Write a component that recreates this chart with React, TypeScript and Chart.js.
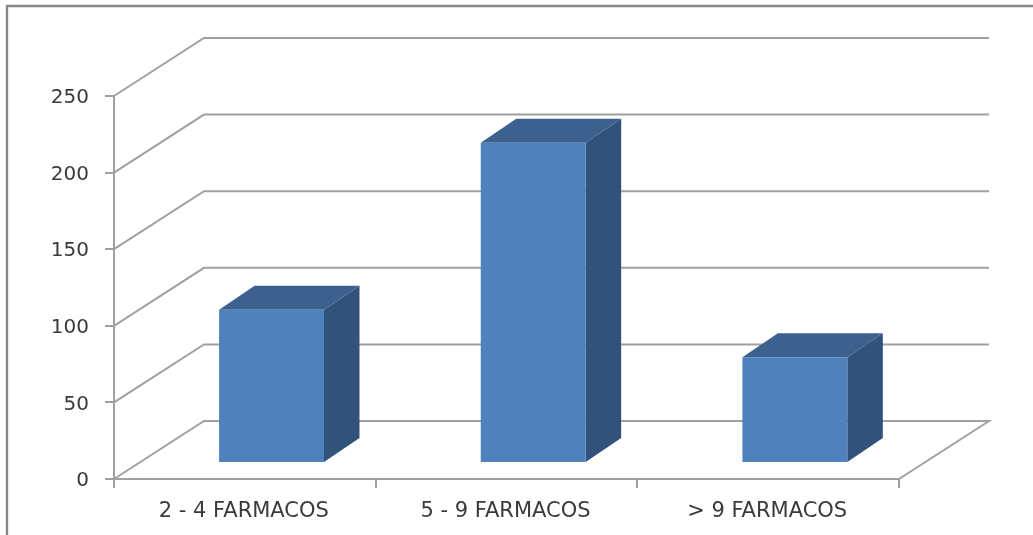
import React, { useEffect, useRef } from "react";
import { Chart, registerables } from "chart.js";

Chart.register(...registerables);

const categories = ["2 - 4 FARMACOS", "5 - 9 FARMACOS", "> 9 FARMACOS"];
const values = [100, 209, 69];
const yMin = 0;
const yMax = 250;
const yStep = 50;

const GRID = "#a0a0a0";
const TEXT = "#3a3a3a";
const FRONT = "#4f81bd";
const SIDE = "#31527a";
const TOP = "#3c618f";

const WALL_DX = 90;
const WALL_DY = 58;
const BAR_SHIFT_X = 26.7;
const BAR_SHIFT_Y = 16;
const BAR_DX = 35.5;
const BAR_DY = 24;

const poly = (ctx: CanvasRenderingContext2D, pts: number[][], fill: string) => {
  ctx.beginPath();
  pts.forEach(([x, y], i) => (i ? ctx.lineTo(x, y) : ctx.moveTo(x, y)));
  ctx.closePath();
  ctx.fillStyle = fill;
  ctx.fill();
};

const threeD = {
  id: "threeD",
  beforeDraw(chart: any) {
    const ctx = chart.ctx;
    ctx.save();
    ctx.strokeStyle = "#878787";
    ctx.lineWidth = 2.4;
    ctx.beginPath();
    ctx.moveTo(7, 535);
    ctx.lineTo(7, 6);
    ctx.lineTo(1033, 6);
    ctx.stroke();
    ctx.restore();
  },
  beforeDatasetsDraw(chart: any) {
    const { ctx, scales } = chart;
    const { left, right } = chart.chartArea;
    ctx.save();
    ctx.strokeStyle = GRID;
    ctx.lineWidth = 2;
    ctx.lineJoin = "miter";
    scales.y.ticks.forEach((t: any) => {
      const y = scales.y.getPixelForValue(t.value);
      ctx.beginPath();
      ctx.moveTo(left, y);
      ctx.lineTo(left + WALL_DX, y - WALL_DY);
      ctx.lineTo(right + WALL_DX, y - WALL_DY);
      if (t.value === yMin) ctx.lineTo(right, y);
      ctx.stroke();
    });
    chart.getDatasetMeta(0).data.forEach((bar: any) => {
      const x0 = bar.x - bar.width / 2 + BAR_SHIFT_X;
      const x1 = bar.x + bar.width / 2 + BAR_SHIFT_X;
      const yt = bar.y - BAR_SHIFT_Y;
      const yb = bar.base - BAR_SHIFT_Y;
      poly(ctx, [[x1, yt], [x1 + BAR_DX, yt - BAR_DY], [x1 + BAR_DX, yb - BAR_DY], [x1, yb]], SIDE);
      poly(ctx, [[x0, yt], [x0 + BAR_DX, yt - BAR_DY], [x1 + BAR_DX, yt - BAR_DY], [x1, yt]], TOP);
    });
    ctx.restore();
    ctx.save();
    ctx.translate(BAR_SHIFT_X, -BAR_SHIFT_Y);
  },
  afterDatasetsDraw(chart: any) {
    chart.ctx.restore();
  },
};

export default function App() {
  const ref = useRef<HTMLCanvasElement>(null);
  useEffect(() => {
    const chart = new Chart(ref.current!, {
      type: "bar",
      data: {
        labels: categories,
        datasets: [{ data: values, backgroundColor: FRONT, borderWidth: 0, barPercentage: 1, categoryPercentage: 0.401 }],
      },
      plugins: [threeD],
      options: {
        animation: false,
        responsive: false,
        devicePixelRatio: 1,
        layout: { padding: { top: 96, right: 134, left: 0, bottom: 0 } },
        plugins: { legend: { display: false }, tooltip: { enabled: false }, title: { display: false } },
        scales: {
          x: {
            afterFit: (s: any) => { s.height = 56; },
            border: { color: GRID, width: 2 },
            grid: { color: GRID, lineWidth: 2, drawOnChartArea: false, drawTicks: true, tickLength: 9, tickColor: GRID },
            ticks: { color: TEXT, font: { family: "'DejaVu Sans'", size: 21 }, padding: 11, labelOffset: -1, maxRotation: 0, autoSkip: false },
          },
          y: {
            min: yMin,
            max: yMax,
            afterFit: (s: any) => { s.width = 114; },
            border: { color: GRID, width: 2 },
            grid: { color: GRID, lineWidth: 2, drawOnChartArea: false, drawTicks: true, tickLength: 9, tickColor: GRID },
            ticks: { color: TEXT, font: { family: "'DejaVu Sans'", size: 20 }, stepSize: yStep, padding: 16, labelOffset: 2 },
          },
        },
      },
    });
    return () => chart.destroy();
  }, []);
  return (
    <canvas
      ref={ref}
      width={1033}
      height={535}
      style={{ position: "fixed", left: 0, top: 0, width: 1033, height: 535, display: "block", background: "#fff", filter: "blur(0.45px)" }}
    />
  );
}
